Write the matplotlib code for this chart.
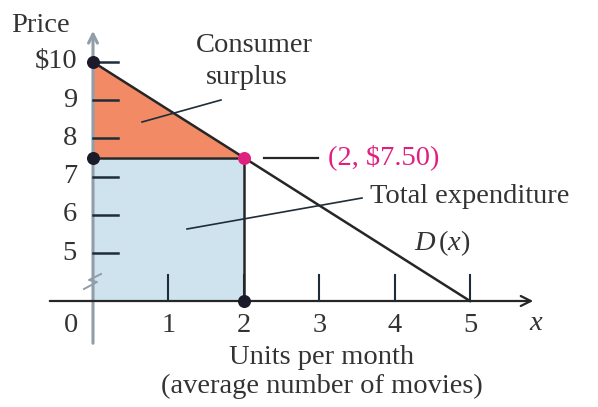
import matplotlib
matplotlib.use("Agg")
import matplotlib.pyplot as plt

# chart values
units = [0, 1, 2, 3, 4, 5]
unit_labels = ["0", "1", "2", "3", "4", "5"]
price_ticks = [5, 6, 7, 8, 9, 10]
price_labels = ["5", "6", "7", "8", "9", "$10"]
demand_q = [0, 5]
demand_p = [10, 3.75]
q_star = 2
p_star = 7.5
p_max = 10
axis_p = 3.75  # where the (broken) price axis meets the units axis

plt.rcParams["font.family"] = ["Liberation Serif", "DejaVu Serif"]
plt.rcParams["mathtext.fontset"] = "custom"
plt.rcParams["mathtext.rm"] = "Liberation Serif"
plt.rcParams["mathtext.it"] = "Liberation Serif:italic"

W, H = 598, 407
fig = plt.figure(figsize=(W / 100, H / 100), dpi=100)
ax = fig.add_axes([0, 0, 1, 1])
ax.axis("off")

# pixel <-> data mapping so the layout follows the picture
X0, SX = 93, 75.4
Y0, SY = 62, 38.24
ax.set_xlim(-X0 / SX, (W - X0) / SX)
ax.set_ylim(p_max - (H - Y0) / SY, p_max + Y0 / SY)


def px(p):
    return (p - X0) / SX


def py(p):
    return p_max - (p - Y0) / SY


dark = "#262626"
navy = "#1f2d3a"
grey = "#8f9ea8"
salmon = "#f28a66"
blue = "#cfe3ef"
magenta = "#e0207f"
txt = "#333333"
fs = 20.5

# fills
ax.fill([0, q_star, q_star, 0], [axis_p, axis_p, p_star, p_star], color=blue, lw=0, zorder=1)
ax.fill([0, q_star, 0], [p_max, p_star, p_star], color=salmon, lw=0, zorder=1)

# axes
ax.annotate("", xy=(0, py(28)), xytext=(0, py(346)),
            arrowprops=dict(arrowstyle="->", color=grey, lw=2.2, mutation_scale=16), zorder=2)
ax.annotate("", xy=(px(536), axis_p), xytext=(px(47), axis_p),
            arrowprops=dict(arrowstyle="->", color=dark, lw=1.6, mutation_scale=18), zorder=3)
# axis break mark
ax.plot([px(84), px(97), px(89), px(101)], [py(289), py(282), py(280), py(274)],
        color=grey, lw=1.4, zorder=3)

# ticks
for p, lab in zip(price_ticks, price_labels):
    ax.plot([0, px(118)], [p, p], color=navy, lw=1.8, zorder=3)
    ax.text(px(77), p, lab, ha="right", va="center", fontsize=fs, color=txt)
for q, lab in zip(units, unit_labels):
    if q > 0:
        ax.plot([q, q], [axis_p, py(275)], color=navy, lw=1.5, zorder=3)
    ax.text(q if q > 0 else px(71), py(325), lab, ha="center", va="center",
            fontsize=fs, color=txt)

# demand, price line, quantity line
ax.plot(demand_q, demand_p, color=dark, lw=1.8, zorder=4)
ax.plot([0, q_star], [p_star, p_star], color=dark, lw=1.8, zorder=4)
ax.plot([q_star, q_star], [p_star, axis_p], color=dark, lw=1.8, zorder=4)

# points
ax.scatter([0, 0, q_star], [p_max, p_star, axis_p], s=70, color="#1a1a2a", zorder=5)
ax.scatter([q_star], [p_star], s=70, color=magenta, zorder=6)

# labels
ax.text(px(70), py(26), "Price", ha="right", va="center", fontsize=fs, color=txt)
ax.text(px(536), py(324), "x", ha="center", va="center", fontsize=fs,
        style="italic", color=txt)
ax.text(px(322), py(357), "Units per month", ha="center", va="center", fontsize=fs,
        color=txt)
ax.text(px(322), py(386), "(average number of movies)", ha="center", va="center",
        fontsize=fs, color=txt)

ax.text(px(196), py(45), "Consumer", ha="left", va="center", fontsize=fs, color=txt)
ax.text(px(206), py(78), "surplus", ha="left", va="center", fontsize=fs, color=txt)
ax.plot([px(142), px(221)], [py(122), py(100)], color=navy, lw=1.2, zorder=4)

ax.text(px(370), py(196), "Total expenditure", ha="left", va="center", fontsize=fs,
        color=txt)
ax.plot([px(187), px(362)], [py(229), py(198)], color=navy, lw=1.2, zorder=4)

ax.plot([px(264), px(318)], [p_star, p_star], color=dark, lw=1.6, zorder=4)
ax.text(px(328), p_star, "(2, $7.50)", ha="left", va="center", fontsize=fs, color=magenta)

ax.text(px(442), py(243), r"$D\,(x)$", ha="center", va="center", fontsize=fs, color=txt)

fig.savefig("out.png", dpi=100)
